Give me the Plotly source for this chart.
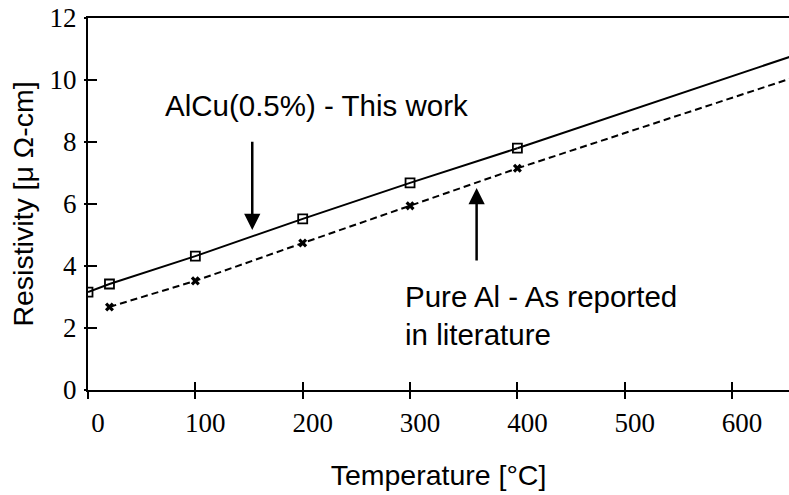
import plotly.graph_objects as go

# Data
alcu_T = [0, 20, 100, 200, 300, 400]
alcu_rho = [3.16, 3.42, 4.32, 5.52, 6.68, 7.80]
al_T = [20, 100, 200, 300, 400]
al_rho = [2.68, 3.52, 4.74, 5.94, 7.15]
ext_T = [400, 660]
alcu_ext = [7.80, 10.82]
al_ext = [7.15, 10.11]

x_ticks = [0, 100, 200, 300, 400, 500, 600]
y_ticks = [0, 2, 4, 6, 8, 10, 12]

sans = "Liberation Sans, Arial, sans-serif"
serif = "Liberation Serif, Times New Roman, serif"

fig = go.Figure()
fig.add_trace(go.Scatter(x=alcu_T, y=alcu_rho, mode="lines+markers",
                         line=dict(color="black", width=2),
                         marker=dict(symbol="square-open", size=9, color="black",
                                     line=dict(width=1.8, color="black")),
                         showlegend=False))
fig.add_trace(go.Scatter(x=ext_T, y=alcu_ext, mode="lines",
                         line=dict(color="black", width=2), showlegend=False))
fig.add_trace(go.Scatter(x=al_T, y=al_rho, mode="lines+markers",
                         line=dict(color="black", width=2, dash="7px,4px"),
                         marker=dict(symbol="x", size=8, color="black"),
                         showlegend=False))
fig.add_trace(go.Scatter(x=ext_T, y=al_ext, mode="lines",
                         line=dict(color="black", width=2, dash="7px,4px"),
                         showlegend=False))
# invisible trace for overlay axes (outer half of crossing ticks)
fig.add_trace(go.Scatter(x=[0], y=[0], xaxis="x2", yaxis="y2", mode="markers",
                         marker=dict(opacity=0), showlegend=False, hoverinfo="skip"))

fig.add_annotation(x=70, y=9.19, xref="x", yref="y", text="AlCu(0.5%) - This work",
                   showarrow=False, xanchor="left", yanchor="middle",
                   font=dict(family=sans, size=29.5, color="black"))
fig.add_annotation(x=293, y=2.39, xref="x", yref="y",
                   text="Pure Al - As reported<br>in literature",
                   showarrow=False, xanchor="left", yanchor="middle", align="left",
                   font=dict(family=sans, size=29.5, color="black"))
fig.add_annotation(x=153, y=5.16, ax=153, ay=8.06, xref="x", yref="y", axref="x", ayref="y",
                   text="", showarrow=True, arrowhead=2, arrowsize=1.3, arrowwidth=2.5,
                   arrowcolor="black")
fig.add_annotation(x=362, y=6.52, ax=362, ay=4.13, xref="x", yref="y", axref="x", ayref="y",
                   text="", showarrow=True, arrowhead=2, arrowsize=1.3, arrowwidth=2.5,
                   arrowcolor="black")

fig.update_layout(
    width=789, height=495,
    margin=dict(l=88, r=0, t=18, b=105),
    paper_bgcolor="white", plot_bgcolor="white",
    xaxis=dict(range=[0, 653], tickvals=x_ticks, ticktext=[str(v) for v in x_ticks],
               showgrid=False, zeroline=False, showline=True, linecolor="black",
               linewidth=2, mirror=True, ticks="inside", ticklen=8, tickwidth=1.5,
               tickcolor="black", ticklabelshift=10, ticklabelstandoff=8,
               tickfont=dict(family=serif, size=27, color="black"),
               title=dict(text="Temperature [°C]", standoff=28,
                          font=dict(family=sans, size=28.5, color="black"))),
    yaxis=dict(range=[0, 12], tickvals=y_ticks, ticktext=[str(v) for v in y_ticks],
               showgrid=False, zeroline=False, showline=True, linecolor="black",
               linewidth=2, ticks="inside", ticklen=9, tickwidth=1.5,
               tickcolor="black", ticklabelstandoff=4,
               tickfont=dict(family=serif, size=27, color="black"),
               title=dict(text="Resistivity [μ Ω-cm]", standoff=8,
                          font=dict(family=sans, size=28.5, color="black"))),
    xaxis2=dict(overlaying="x", matches="x", anchor="y", side="bottom",
                tickvals=x_ticks, showticklabels=False, ticks="outside", ticklen=8,
                tickwidth=1.5, tickcolor="black", showgrid=False, zeroline=False,
                showline=False),
    yaxis2=dict(overlaying="y", matches="y", anchor="x", side="left",
                tickvals=y_ticks, showticklabels=False, ticks="outside", ticklen=3,
                tickwidth=1.5, tickcolor="black", showgrid=False, zeroline=False,
                showline=False),
)

fig.write_html("out.html")
